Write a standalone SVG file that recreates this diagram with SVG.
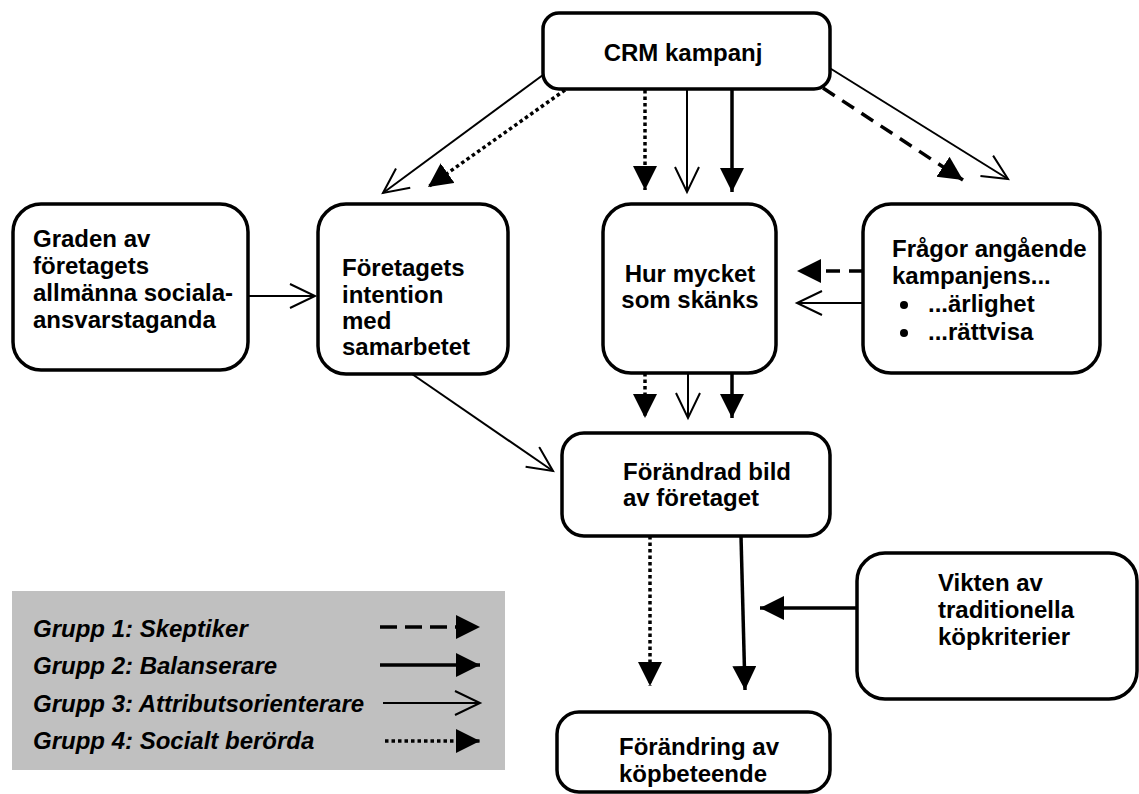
<svg xmlns="http://www.w3.org/2000/svg" width="1139" height="794" viewBox="0 0 1139 794">
<defs>
<style>
.box{fill:#fff;stroke:#000;stroke-width:3.5}
.t{font-family:"Liberation Sans",Arial,sans-serif;font-weight:bold;font-size:24px;fill:#000}
.lt{font-family:"Liberation Sans",Arial,sans-serif;font-weight:bold;font-style:italic;font-size:24px;fill:#000}
.thin{stroke:#000;stroke-width:2;fill:none;marker-end:url(#open)}
.solid{stroke:#000;stroke-width:3.5;fill:none;marker-end:url(#fill)}
.dash{stroke:#000;stroke-width:3.5;fill:none;stroke-dasharray:14 9;marker-end:url(#fill)}
.dot{stroke:#000;stroke-width:3.5;fill:none;stroke-dasharray:3.5 3;marker-end:url(#fill)}
</style>
<marker id="fill" markerUnits="userSpaceOnUse" markerWidth="26" markerHeight="26" refX="24" refY="12" orient="auto">
<path d="M0,0 L24,12 L0,24 Z" fill="#000"/>
</marker>
<marker id="open" markerUnits="userSpaceOnUse" markerWidth="30" markerHeight="30" refX="26" refY="13" orient="auto">
<path d="M1,1 L26,13 L1,25" fill="none" stroke="#000" stroke-width="2"/>
</marker>
</defs>
<rect width="1139" height="794" fill="#fff"/>

<g id="legend">
<rect x="12" y="591" width="493" height="179" fill="#c0c0c0"/>
<text class="lt" x="33" y="637">Grupp 1: Skeptiker</text>
<text class="lt" x="33" y="674">Grupp 2: Balanserare</text>
<text class="lt" x="33" y="712">Grupp 3: Attributsorienterare</text>
<text class="lt" x="33" y="749">Grupp 4: Socialt berörda</text>
<line class="dash" x1="380" y1="627" x2="480" y2="627" style="stroke-dasharray:17 8"/>
<line class="solid" x1="380" y1="665" x2="480" y2="665"/>
<line class="thin" x1="383" y1="703" x2="480" y2="703"/>
<line class="dot" x1="385" y1="741" x2="480" y2="741"/>
</g>

<g id="connectors">
<line class="thin" x1="547" y1="72" x2="383" y2="193"/>
<line class="dot" x1="565" y1="90" x2="428" y2="187"/>
<line class="dot" x1="645" y1="90" x2="645" y2="190"/>
<line class="thin" x1="687" y1="90" x2="687" y2="192"/>
<line class="solid" x1="732" y1="90" x2="732" y2="192"/>
<line class="dash" x1="823" y1="88" x2="963" y2="180"/>
<line class="thin" x1="828" y1="67" x2="1008" y2="179"/>
<line class="thin" x1="248" y1="296" x2="315" y2="296"/>
<line class="dash" x1="863" y1="271" x2="797" y2="271"/>
<line class="thin" x1="863" y1="303" x2="797" y2="303"/>
<line class="dot" x1="645" y1="373" x2="645" y2="418"/>
<line class="thin" x1="688" y1="373" x2="688" y2="418"/>
<line class="solid" x1="732" y1="373" x2="732" y2="418"/>
<line class="thin" x1="412" y1="374" x2="553" y2="471"/>
<line class="dot" x1="650" y1="536" x2="650" y2="686"/>
<line class="solid" x1="741" y1="536" x2="745" y2="690"/>
<line class="solid" x1="857" y1="608" x2="760" y2="608"/>
</g>

<g id="crm">
<rect class="box" x="543" y="13" width="287" height="76" rx="16"/>
<text class="t" x="683" y="61" text-anchor="middle">CRM kampanj</text>
</g>

<g id="graden">
<rect class="box" x="13" y="204" width="235" height="166" rx="28"/>
<text class="t" x="33" y="247">Graden av</text>
<text class="t" x="33" y="274">företagets</text>
<text class="t" x="33" y="301">allmänna sociala-</text>
<text class="t" x="33" y="328">ansvarstaganda</text>
</g>

<g id="foretagets">
<rect class="box" x="318" y="204" width="190" height="170" rx="28"/>
<text class="t" x="342" y="276">Företagets</text>
<text class="t" x="342" y="303">intention</text>
<text class="t" x="342" y="329">med</text>
<text class="t" x="342" y="355">samarbetet</text>
</g>

<g id="hur">
<rect class="box" x="603" y="204" width="173" height="169" rx="28"/>
<text class="t" x="690" y="282" text-anchor="middle">Hur mycket</text>
<text class="t" x="690" y="308" text-anchor="middle">som skänks</text>
</g>

<g id="fragor">
<rect class="box" x="863" y="204" width="237" height="169" rx="28"/>
<text class="t" x="892" y="257">Frågor angående</text>
<text class="t" x="892" y="284">kampanjens...</text>
<circle cx="904" cy="305" r="4"/>
<text class="t" x="928" y="312">...ärlighet</text>
<circle cx="904" cy="333" r="4"/>
<text class="t" x="928" y="340">...rättvisa</text>
</g>

<g id="forandrad">
<rect class="box" x="562" y="433" width="268" height="103" rx="22"/>
<text class="t" x="623" y="480">Förändrad bild</text>
<text class="t" x="623" y="506">av företaget</text>
</g>

<g id="vikten">
<rect class="box" x="857" y="553" width="280" height="146" rx="28"/>
<text class="t" x="938" y="591">Vikten av</text>
<text class="t" x="938" y="618">traditionella</text>
<text class="t" x="938" y="645">köpkriterier</text>
</g>

<g id="forandring">
<rect class="box" x="557" y="712" width="273" height="80" rx="22"/>
<text class="t" x="619" y="755">Förändring av</text>
<text class="t" x="619" y="782">köpbeteende</text>
</g>
</svg>
